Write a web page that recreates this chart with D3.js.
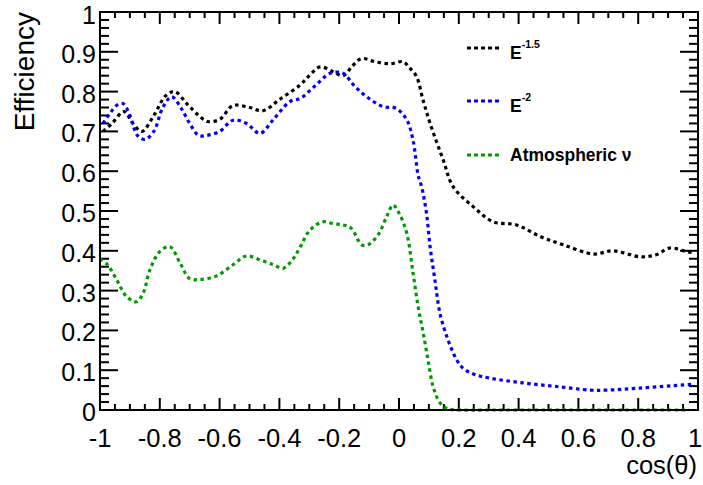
<!DOCTYPE html>
<html><head><meta charset="utf-8">
<script src="https://cdn.jsdelivr.net/npm/d3@7"></script>
<style>body{margin:0;background:#fff}svg{display:block}text{font-family:"Liberation Sans",Arial,sans-serif}</style>
</head><body>
<script>
const blackX=[-0.99,-0.96,-0.92,-0.89,-0.86,-0.82,-0.78,-0.75,-0.71,-0.67,-0.64,-0.6,-0.555,-0.5,-0.455,-0.4,-0.33,-0.3,-0.264,-0.22,-0.187,-0.155,-0.125,-0.08,-0.03,0.014,0.035,0.059,0.08,0.104,0.148,0.181,0.248,0.315,0.393,0.472,0.55,0.65,0.716,0.806,0.86,0.906,0.962,0.99];
const blackY=[0.70,0.72,0.75,0.72,0.70,0.74,0.79,0.80,0.77,0.74,0.725,0.73,0.765,0.76,0.752,0.78,0.817,0.84,0.862,0.85,0.84,0.865,0.883,0.875,0.87,0.875,0.86,0.837,0.78,0.72,0.628,0.561,0.511,0.473,0.465,0.436,0.415,0.392,0.40,0.385,0.39,0.407,0.398,0.395];
const blueX=[-0.99,-0.967,-0.945,-0.923,-0.9,-0.875,-0.85,-0.82,-0.79,-0.76,-0.73,-0.7,-0.67,-0.643,-0.6,-0.555,-0.51,-0.465,-0.42,-0.365,-0.33,-0.28,-0.23,-0.187,-0.15,-0.108,-0.053,-0.01,0.026,0.047,0.064,0.076,0.092,0.104,0.12,0.137,0.164,0.193,0.214,0.25,0.304,0.415,0.527,0.64,0.695,0.806,0.95,0.99];
const blueY=[0.72,0.745,0.765,0.77,0.74,0.69,0.68,0.70,0.76,0.787,0.76,0.72,0.69,0.69,0.70,0.728,0.72,0.695,0.73,0.775,0.783,0.815,0.846,0.846,0.815,0.787,0.762,0.758,0.729,0.678,0.59,0.56,0.494,0.41,0.327,0.243,0.176,0.126,0.105,0.09,0.08,0.068,0.059,0.05,0.05,0.055,0.063,0.065];
const atmX=[-1,-0.975,-0.944,-0.911,-0.878,-0.856,-0.833,-0.8,-0.766,-0.732,-0.7,-0.666,-0.61,-0.555,-0.51,-0.465,-0.42,-0.388,-0.354,-0.33,-0.298,-0.254,-0.22,-0.187,-0.16,-0.125,-0.104,-0.07,-0.041,-0.02,0.0,0.026,0.047,0.064,0.081,0.097,0.114,0.137,0.16,0.2,0.3,0.5,0.7,0.97];
const atmY=[0.38,0.365,0.327,0.285,0.272,0.293,0.352,0.398,0.41,0.369,0.33,0.328,0.337,0.365,0.387,0.377,0.365,0.356,0.38,0.41,0.452,0.473,0.468,0.465,0.457,0.415,0.415,0.44,0.486,0.515,0.495,0.444,0.344,0.26,0.193,0.126,0.059,0.018,0.004,0,0,0,0,0];
const xTickLabels=["-1","-0.8","-0.6","-0.4","-0.2","0","0.2","0.4","0.6","0.8","1"];
const yTickLabels=["0","0.1","0.2","0.3","0.4","0.5","0.6","0.7","0.8","0.9","1"];
const seriesNames=["E","E","Atmospheric ν"];
const seriesSup=["-1.5","-2",""];
const colors=["#000000","#0000ff","#009900"];

const W=703,H=485, L=100,R=698,T=12,B=410;
const svg=d3.select("body").append("svg").attr("width",W).attr("height",H);
const x=d3.scaleLinear().domain([-1,1]).range([L,R]);
const y=d3.scaleLinear().domain([0,1]).range([B,T]);

svg.append("defs").append("clipPath").attr("id","clip").append("rect").attr("x",L).attr("y",T-2).attr("width",R-L).attr("height",B-T+4);

const line=d3.line().x(d=>x(d[0])).y(d=>y(d[1])).curve(d3.curveCatmullRom.alpha(0.5));
const series=[[blackX,blackY],[blueX,blueY],[atmX,atmY]];

// axes ticks
const g=svg.append("g").attr("stroke","#000").attr("stroke-width",2);
x.ticks(40).forEach(v=>{
  const major=Math.abs(Math.round(v*5)-v*5)<1e-6;
  const len=major?12:6;
  g.append("line").attr("x1",x(v)).attr("x2",x(v)).attr("y1",B).attr("y2",B-len);
  g.append("line").attr("x1",x(v)).attr("x2",x(v)).attr("y1",T).attr("y2",T+len);
});
y.ticks(50).forEach(v=>{
  const major=Math.abs(Math.round(v*10)-v*10)<1e-6;
  const len=major?18:9;
  g.append("line").attr("y1",y(v)).attr("y2",y(v)).attr("x1",L).attr("x2",L+len);
  g.append("line").attr("y1",y(v)).attr("y2",y(v)).attr("x1",R).attr("x2",R-len);
});

// curves
series.forEach((s,i)=>{
  const pts=s[0].map((v,j)=>[v,s[1][j]]);
  svg.append("path").attr("clip-path","url(#clip)").datum(pts).attr("d",line)
    .attr("fill","none").attr("stroke",colors[i]).attr("stroke-width",3.2).attr("stroke-dasharray","3.5,3.5");
});

svg.append("rect").attr("x",L).attr("y",T).attr("width",R-L).attr("height",B-T)
  .attr("fill","none").attr("stroke","#000").attr("stroke-width",2);

// tick labels
xTickLabels.forEach(t=>{
  const px=Math.min(x(+t),703-8);
  svg.append("text").attr("x",px).attr("y",447).attr("text-anchor","middle")
    .attr("font-size",25.5).text(t);
});
yTickLabels.forEach(t=>{
  svg.append("text").attr("x",96).attr("y",Math.max(y(+t)+11,24)).attr("text-anchor","end")
    .attr("font-size",25).text(t);
});
svg.append("text").attr("transform","translate(34,12) rotate(-90)").attr("text-anchor","end")
  .attr("font-size",28).text("Efficiency");
svg.append("text").attr("x",697).attr("y",474).attr("text-anchor","end").attr("font-size",25.5).text("cos(θ)");

// legend
const legLineY=[48,101,155], legTextY=[59,112,161];
seriesNames.forEach((n,i)=>{
  svg.append("line").attr("x1",467).attr("x2",502).attr("y1",legLineY[i]).attr("y2",legLineY[i])
    .attr("stroke",colors[i]).attr("stroke-width",3.2).attr("stroke-dasharray","4,3");
  const t=svg.append("text").attr("x",510).attr("y",legTextY[i]).attr("font-size",17.5).attr("font-weight","bold").text(n);
  if(seriesSup[i]) t.append("tspan").attr("font-size",10.5).attr("dy",-11).text(seriesSup[i]);
});
</script>
</body></html>
